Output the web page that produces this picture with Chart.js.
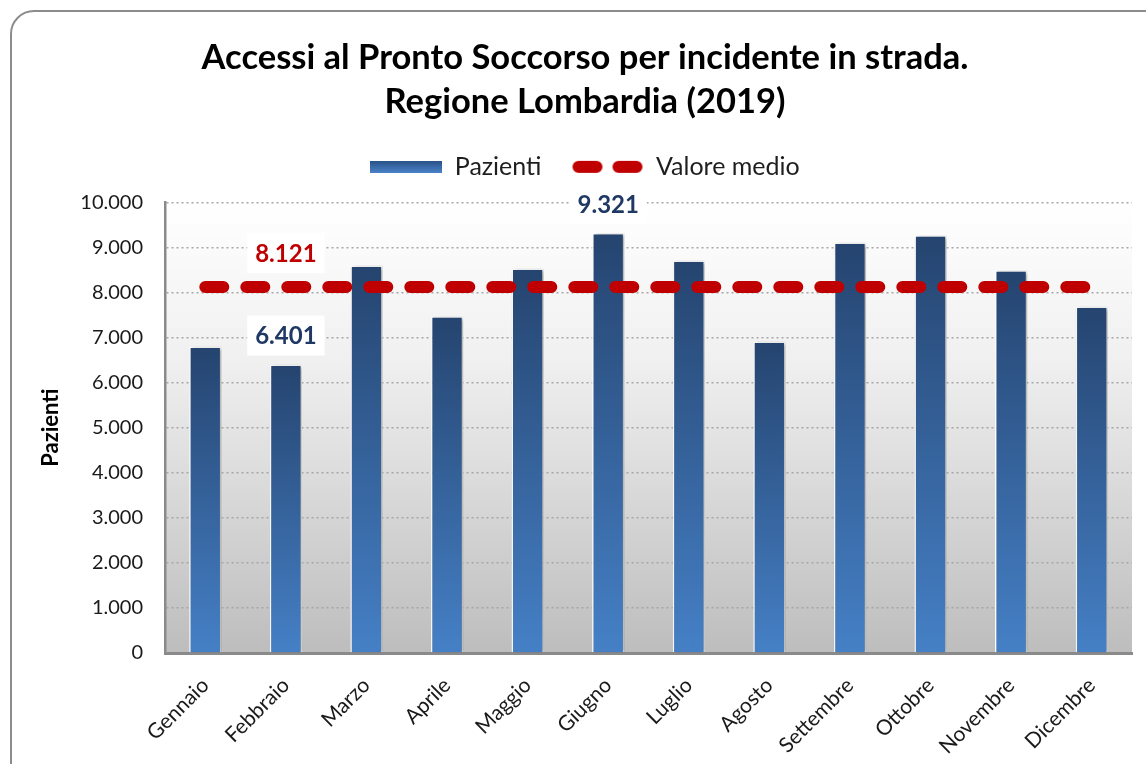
<!DOCTYPE html>
<html>
<head>
<meta charset="utf-8">
<script src="https://cdn.jsdelivr.net/npm/chart.js@4"></script>
<style>
  html, body { margin: 0; padding: 0; background: #fff; overflow: hidden; }
  #box {
    position: absolute; left: 10px; top: 10px;
    width: 1160px; height: 780px;
    border: 2px solid #8c8c8c; border-radius: 24px;
    box-sizing: border-box; background: #fff;
  }
  #wrap { position: absolute; left: 0; top: 0; width: 1156px; height: 776px; }
</style>
</head>
<body>
<div id="box"><div id="wrap"><canvas id="chart"></canvas></div></div>
<script>
const FONT = "Lato, 'Open Sans', sans-serif";

const mesi = ['Gennaio', 'Febbraio', 'Marzo', 'Aprile', 'Maggio', 'Giugno',
              'Luglio', 'Agosto', 'Settembre', 'Ottobre', 'Novembre', 'Dicembre'];
const pazienti = [6800, 6401, 8600, 7470, 8530, 9321, 8710, 6910, 9110, 9270, 8490, 7690];
const valoreMedio = [8121, 8121, 8121, 8121, 8121, 8121, 8121, 8121, 8121, 8121, 8121, 8121];
// which points get a value label
const barLabels = [1, 5];
const mediaLabel = 1;

const fmt = v => String(Math.round(v)).replace(/\B(?=(\d{3})+(?!\d))/g, '.');

// small canvases used as legend symbols
function legendBar() {
    const c = document.createElement('canvas');
    c.width = 72; c.height = 12;
    const x = c.getContext('2d');
    const g = x.createLinearGradient(0, 0, 0, 12);
    g.addColorStop(0, '#2a5288');
    g.addColorStop(1, '#4a82c8');
    x.fillStyle = g;
    x.fillRect(0, 0, 72, 12);
    return c;
}
function legendDash() {
    const c = document.createElement('canvas');
    c.width = 72; c.height = 14;
    const x = c.getContext('2d');
    x.strokeStyle = '#c00000';
    x.lineWidth = 12;
    x.lineCap = 'round';
    x.beginPath();
    x.moveTo(7, 7); x.lineTo(25, 7);
    x.moveTo(47, 7); x.lineTo(65, 7);
    x.stroke();
    return c;
}

const plotBg = {
    id: 'plotBg',
    beforeDraw(chart) {
        const { ctx, chartArea: a } = chart;
        const g = ctx.createLinearGradient(0, a.top, 0, a.bottom);
        g.addColorStop(0, '#ffffff');
        g.addColorStop(0.35, '#f0f0f0');
        g.addColorStop(1, '#bdbdbd');
        ctx.save();
        ctx.fillStyle = g;
        ctx.fillRect(a.left, a.top, a.right - a.left, a.bottom - a.top);
        ctx.restore();
    }
};

// extra room under the legend
const legendGap = {
    id: 'legendGap',
    beforeLayout(chart) {
        const lg = chart.legend;
        if (lg && !lg._gap) {
            const orig = lg.fit;
            lg.fit = function () { orig.call(this); this.height += 13; };
            lg._gap = true;
        }
    }
};

const barShadow = {
    id: 'barShadow',
    beforeDatasetDraw(chart, args) {
        if (args.index !== 0) return;
        const ctx = chart.ctx;
        ctx.save();
        ctx.shadowColor = 'rgba(0,0,0,0.35)';
        ctx.shadowBlur = 4;
        ctx.shadowOffsetX = 2;
        ctx.shadowOffsetY = 1;
    },
    afterDatasetDraw(chart, args) {
        if (args.index === 0) chart.ctx.restore();
    }
};

function boxLabel(ctx, text, x, y, color) {
    ctx.save();
    ctx.font = 'bold 24px ' + FONT;
    const w = ctx.measureText(text).width + 16;
    ctx.fillStyle = '#ffffff';
    ctx.fillRect(x - w / 2, y - 20, w, 40);
    ctx.fillStyle = color;
    ctx.textAlign = 'center';
    ctx.textBaseline = 'middle';
    ctx.fillText(text, x, y + 1);
    ctx.restore();
}

const valueLabels = {
    id: 'valueLabels',
    afterDatasetsDraw(chart) {
        const ctx = chart.ctx;
        const bars = chart.getDatasetMeta(0).data;
        barLabels.forEach(i => {
            boxLabel(ctx, fmt(pazienti[i]), bars[i].x, bars[i].y - 29, '#1f3864');
        });
        const pts = chart.getDatasetMeta(1).data;
        const p = pts[mediaLabel];
        boxLabel(ctx, fmt(valoreMedio[mediaLabel]), p.x, p.y - 34, '#c00000');
    }
};

new Chart(document.getElementById('chart'), {
    data: {
        labels: mesi,
        datasets: [{
            type: 'bar',
            label: 'Pazienti',
            data: pazienti,
            order: 2,
            backgroundColor: (c) => {
                const chart = c.chart;
                if (!chart.chartArea || c.raw === undefined) return '#3b6aa8';
                const top = chart.scales.y.getPixelForValue(c.raw);
                const bottom = chart.scales.y.getPixelForValue(0);
                const g = chart.ctx.createLinearGradient(0, top, 0, bottom);
                g.addColorStop(0, '#25446f');
                g.addColorStop(1, '#4580c6');
                return g;
            },
            borderColor: '#ffffff',
            borderWidth: 1.5,
            categoryPercentage: 1,
            barPercentage: 0.4
        }, {
            type: 'line',
            label: 'Valore medio',
            data: valoreMedio,
            order: 1,
            borderColor: '#c00000',
            borderWidth: 12,
            borderDash: [18, 23],
            borderCapStyle: 'round',
            pointRadius: 0,
            fill: false
        }]
    },
    options: {
        responsive: true,
        maintainAspectRatio: false,
        animation: false,
        layout: { padding: { left: 26, right: 36, top: 0, bottom: 20 } },
        plugins: {
            title: {
                display: true,
                text: ['Accessi al Pronto Soccorso per incidente in strada.', 'Regione Lombardia (2019)'],
                color: '#000',
                font: { family: FONT, size: 34.5, weight: 'bold', lineHeight: 1.28 },
                padding: { top: 24, bottom: 0 }
            },
            legend: {
                display: true,
                position: 'top',
                labels: {
                    usePointStyle: true,
                    pointStyleWidth: 72,
                    boxHeight: 14,
                    padding: 30,
                    color: '#1e1e1e',
                    font: { family: FONT, size: 25 },
                    generateLabels: () => [
                        { text: 'Pazienti', pointStyle: legendBar(), datasetIndex: 0, lineWidth: 0, fontColor: '#1e1e1e' },
                        { text: 'Valore medio', pointStyle: legendDash(), datasetIndex: 1, lineWidth: 0, fontColor: '#1e1e1e' }
                    ]
                }
            },
            tooltip: { enabled: false }
        },
        scales: {
            x: {
                grid: { display: false, drawTicks: false },
                border: { display: true, color: '#8a8a8a', width: 3 },
                ticks: {
                    color: '#1a1a1a',
                    font: { family: FONT, size: 21 },
                    maxRotation: 45,
                    minRotation: 45,
                    padding: 20
                },
                afterFit(s) { s.height = 115; }
            },
            y: {
                min: 0,
                max: 10000,
                grid: {
                    color: '#a6a6a6',
                    lineWidth: 1.5,
                    drawTicks: false
                },
                border: { display: true, color: '#8a8a8a', width: 2.5, dash: [2, 3] },
                ticks: {
                    stepSize: 1000,
                    padding: 22,
                    color: '#1a1a1a',
                    font: { family: FONT, size: 20 },
                    callback: v => fmt(v)
                },
                title: {
                    display: true,
                    text: 'Pazienti',
                    color: '#000',
                    font: { family: FONT, size: 22, weight: 'bold' },
                    padding: { top: 0, bottom: 0 }
                },
                afterFit(s) { s.width = 127; }
            }
        }
    },
    plugins: [plotBg, legendGap, barShadow, valueLabels]
});
</script>
</body>
</html>
